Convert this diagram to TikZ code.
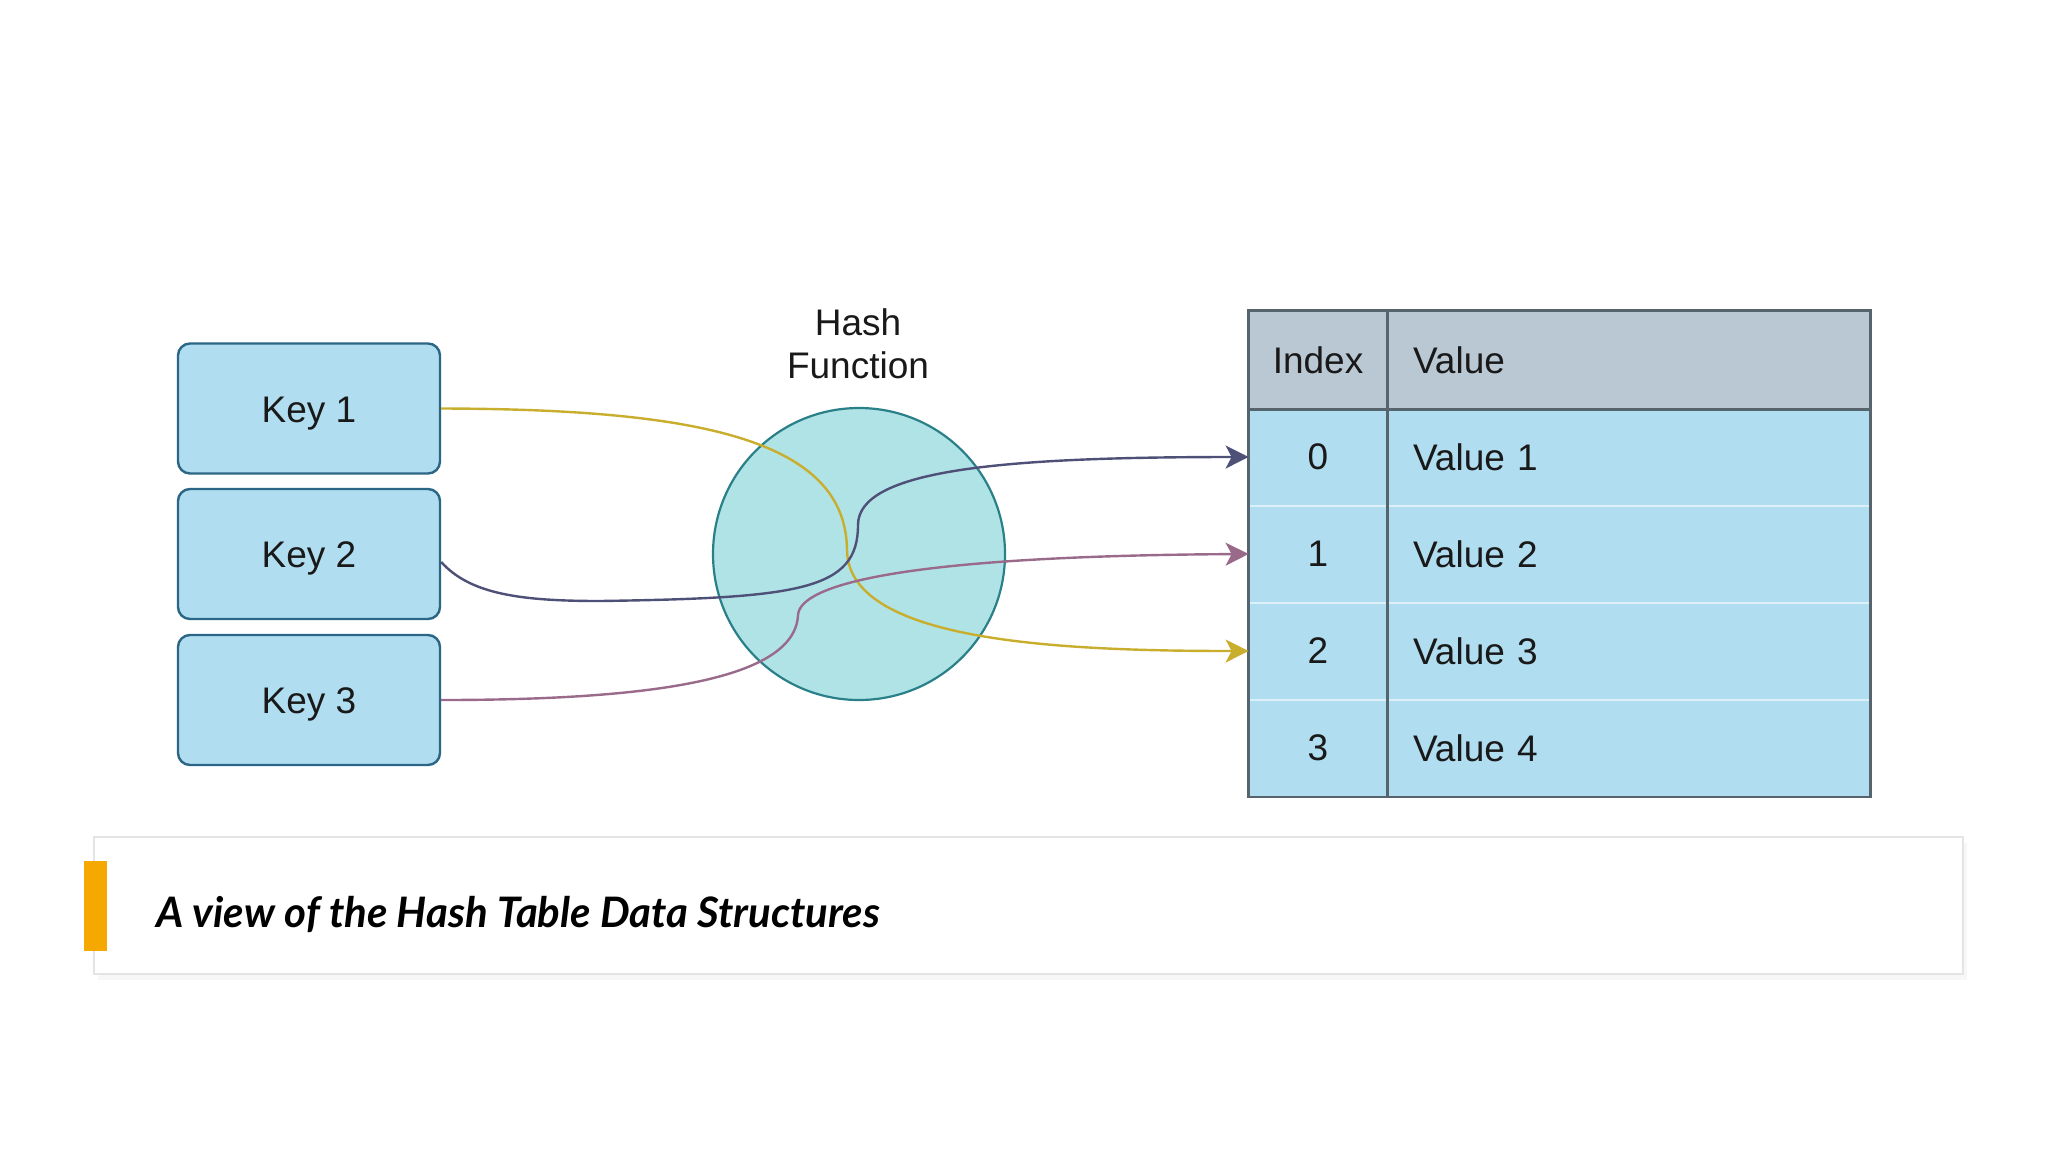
\documentclass[tikz,border=0pt]{standalone}
\usepackage{fontspec}
\setmainfont{Liberation Sans}
\newfontfamily\capfont{Lato}
\usetikzlibrary{arrows.meta,shadows}
\definecolor{keyfill}{HTML}{B1DDF0}
\definecolor{keydraw}{HTML}{2B6686}
\definecolor{circfill}{HTML}{B0E3E6}
\definecolor{circdraw}{HTML}{2A8088}
\definecolor{headfill}{HTML}{BAC8D3}
\definecolor{tabline}{HTML}{56646E}
\definecolor{rowsep}{HTML}{DDF0F8}
\definecolor{cyellow}{HTML}{C9AE2E}
\definecolor{cslate}{HTML}{4F5078}
\definecolor{cmauve}{HTML}{9A6A8A}
\definecolor{orangebar}{HTML}{F5A800}
\definecolor{capborder}{HTML}{E4E4E4}
\tikzset{
  txt/.style={font=\fontsize{18.5}{21.5}\selectfont, text=black!90},
  keybox/.style={txt, rectangle, rounded corners=6pt, draw=keydraw, line width=1.2pt,
    fill=keyfill, minimum width=131pt, minimum height=65pt, inner sep=0pt,
    text height=13.5pt, text depth=0pt},
  hashcirc/.style={circle, draw=circdraw, line width=1.1pt, fill=circfill,
    minimum size=146pt, inner sep=0pt},
  idxcell/.style={txt, rectangle, minimum width=69pt, inner sep=0pt},
  valcell/.style={txt, rectangle, text width=215.5pt, align=left, inner xsep=13pt, inner ysep=0pt},
  conn/.style={line width=1.2pt, -{Stealth[length=11.5pt, width=11.5pt, inset=3pt]}},
}
\begin{document}
\begin{tikzpicture}[x=0.5pt,y=-0.5pt]
\useasboundingbox[fill=white] (0,0) rectangle (2048,1152);

% keys
\node[keybox] (k1) at (309,408.5) {Key 1};
\node[keybox] (k2) at (309,554) {Key 2};
\node[keybox] (k3) at (309,700) {Key 3};

% hash function
\node[hashcirc] (hf) at (859,554) {};
\node[txt, align=center] (hflbl) at (858,344) {Hash\\Function};

% table
\node[idxcell, fill=headfill, minimum height=49pt] (h0) at (1318,360) {Index};
\node[valcell, fill=headfill, minimum height=49pt] (h1) at (1628.5,360) {Value};
\node[idxcell, fill=keyfill, minimum height=48.5pt] (i0) at (1318,457) {0};
\node[valcell, fill=keyfill, minimum height=48.5pt] (v0) at (1628.5,457) {Value 1};
\node[idxcell, fill=keyfill, minimum height=48.5pt] (i1) at (1318,554) {1};
\node[valcell, fill=keyfill, minimum height=48.5pt] (v1) at (1628.5,554) {Value 2};
\node[idxcell, fill=keyfill, minimum height=48.5pt] (i2) at (1318,651) {2};
\node[valcell, fill=keyfill, minimum height=48.5pt] (v2) at (1628.5,651) {Value 3};
\node[idxcell, fill=keyfill, minimum height=48.5pt] (i3) at (1318,748) {3};
\node[valcell, fill=keyfill, minimum height=48.5pt] (v3) at (1628.5,748) {Value 4};
\draw[rowsep, line width=0.8pt] (i0.south west) -- (v0.south east);
\draw[rowsep, line width=0.8pt] (i1.south west) -- (v1.south east);
\draw[rowsep, line width=0.8pt] (i2.south west) -- (v2.south east);
\draw[tabline, line width=1.2pt] (h0.south west) -- (h1.south east);
\draw[tabline, line width=1.2pt] (h0.north east) -- (i3.south east);
\draw[tabline, line width=1.3pt] (h0.north west) rectangle (v3.south east);

% connectors
\draw[conn, cyellow] (k1.east) .. controls (700,409) and (846,440) .. (847,550)
  .. controls (848,640) and (1050,651) .. (i2.west);
\draw[conn, cslate] ([yshift=-4pt]k2.east) .. controls (470,594) and (520,601) .. (600,601)
  .. controls (800,598) and (858,590) .. (858,525)
  .. controls (858,470) and (1000,457) .. (i0.west);
\draw[conn, cmauve] (k3.east) .. controls (650,700) and (795,680) .. (798,615)
  .. controls (800,585) and (900,556) .. (i1.west);

% caption
\node[rectangle, draw=capborder, line width=0.8pt, fill=white,
  drop shadow={opacity=0.06, shadow xshift=2pt, shadow yshift=-3pt},
  minimum width=934.5pt, minimum height=68.5pt, inner sep=0pt] (capbox) at (1028.5,905.5) {};
\node[rectangle, fill=orangebar, minimum width=11.5pt, minimum height=45pt, inner sep=0pt] (bar) at (95.5,906) {};
\node[anchor=base west, inner sep=0pt, font=\capfont\bfseries\itshape\fontsize{21}{25}\selectfont] (cap) at (156,927) {A view of the Hash Table Data Structures};
\end{tikzpicture}
\end{document}
